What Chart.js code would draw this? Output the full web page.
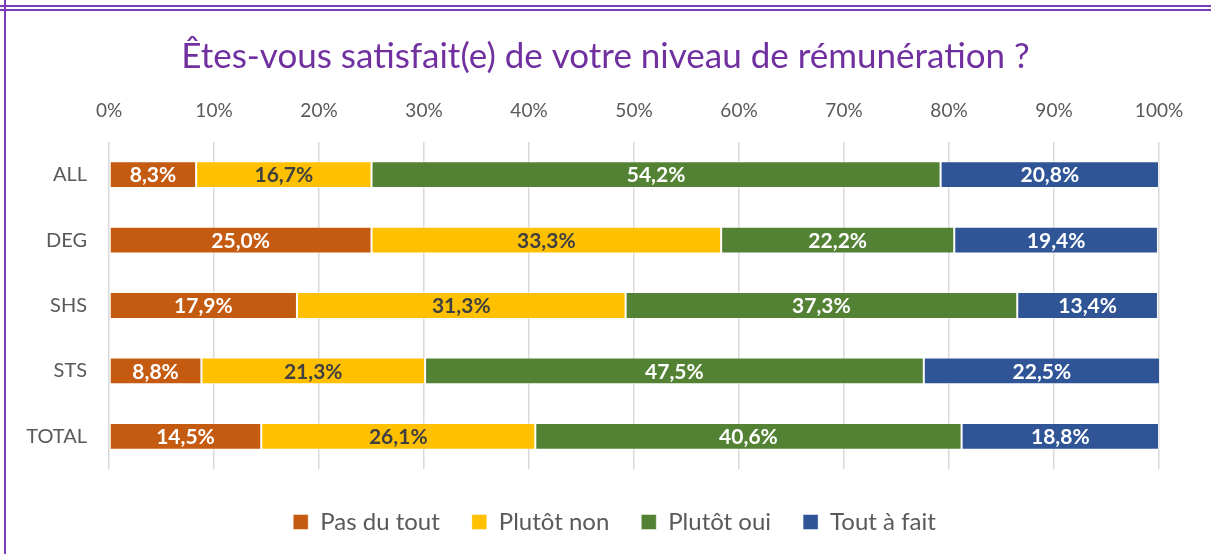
<!DOCTYPE html>
<html lang="fr">
<head>
<meta charset="utf-8">
<script src="https://cdn.jsdelivr.net/npm/chart.js@4.4.1/dist/chart.umd.min.js"></script>
<style>
    html, body { margin: 0; padding: 0; background: #fff; }
    #wrap { position: relative; width: 1211px; height: 554px; overflow: hidden; }
    .ligne { position: absolute; background: #7a3db8; }
    canvas { position: absolute; left: 0; top: 0; }
</style>
</head>
<body>
<div id="wrap">
    <div class="ligne" style="left:0;top:5px;width:1211px;height:2px;"></div>
    <div class="ligne" style="left:0;top:9px;width:1211px;height:2px;"></div>
    <div class="ligne" style="left:4px;top:0;width:2px;height:554px;"></div>
    <canvas id="graphique" width="1211" height="554"></canvas>
</div>
<script>
    const categories = ['ALL', 'DEG', 'SHS', 'STS', 'TOTAL'];
    const pasDuTout = [8.3, 25.0, 17.9, 8.8, 14.5];
    const plutotNon = [16.7, 33.3, 31.3, 21.3, 26.1];
    const plutotOui = [54.2, 22.2, 37.3, 47.5, 40.6];
    const toutAFait = [20.8, 19.4, 13.4, 22.5, 18.8];

    const police = 'Lato, "Open Sans", sans-serif';
    const gris = '#595959';

    // etiquettes de valeur au centre de chaque segment
    const etiquettes = {
        id: 'etiquettes',
        afterDatasetsDraw: function (chart) {
            const ctx = chart.ctx;
            ctx.save();
            ctx.font = 'bold 21px ' + police;
            ctx.textAlign = 'center';
            ctx.textBaseline = 'middle';
            chart.data.datasets.forEach(function (ds, i) {
                const meta = chart.getDatasetMeta(i);
                meta.data.forEach(function (bar, j) {
                    const v = ds.data[j];
                    const texte = v.toFixed(1).replace('.', ',') + '%';
                    ctx.fillStyle = ds.couleurTexte;
                    ctx.fillText(texte, (bar.x + bar.base) / 2, bar.y + 1);
                });
            });
            ctx.restore();
        }
    };

    // petit decalage de la legende vers la droite, comme dans l'original
    const decalageLegende = {
        id: 'decalageLegende',
        afterLayout: function (chart) {
            chart.legend.left += 9;
            chart.legend.right += 9;
        }
    };

    function serie(label, data, couleur, couleurTexte) {
        return {
            label: label,
            data: data,
            backgroundColor: couleur,
            borderColor: 'rgba(255, 255, 255, 0.45)',
            borderWidth: 1,
            borderSkipped: false,
            couleurTexte: couleurTexte,
            categoryPercentage: 0.41,
            barPercentage: 1
        };
    }

    new Chart(document.getElementById('graphique'), {
        type: 'bar',
        data: {
            labels: categories,
            datasets: [
                serie('Pas du tout', pasDuTout, '#c55a11', '#ffffff'),
                serie('Plutôt non', plutotNon, '#ffc000', '#404040'),
                serie('Plutôt oui', plutotOui, '#548235', '#ffffff'),
                serie('Tout à fait', toutAFait, '#2f5597', '#ffffff')
            ]
        },
        plugins: [etiquettes, decalageLegende],
        options: {
            indexAxis: 'y',
            responsive: false,
            animation: false,
            layout: { padding: { left: 0, right: 0, top: 0, bottom: 10 } },
            scales: {
                x: {
                    position: 'top',
                    stacked: true,
                    min: 0,
                    max: 100,
                    border: { display: false },
                    grid: { color: '#d9d9d9', lineWidth: 1.5, drawTicks: false },
                    ticks: {
                        stepSize: 10,
                        padding: 20,
                        color: gris,
                        font: { family: police, size: 19 },
                        callback: function (v) { return v + '%'; }
                    },
                    afterFit: function (s) { s.height = 60; }
                },
                y: {
                    stacked: true,
                    border: { display: false },
                    grid: { display: false, drawTicks: false },
                    ticks: {
                        padding: 22,
                        color: gris,
                        font: { family: police, size: 20 }
                    },
                    afterFit: function (s) { s.width = 109; }
                },
                droite: {
                    type: 'linear',
                    axis: 'y',
                    position: 'right',
                    display: true,
                    border: { display: false },
                    grid: { display: false },
                    ticks: { display: false },
                    afterFit: function (s) { s.width = 52; }
                },
                ecart: {
                    type: 'linear',
                    axis: 'x',
                    position: 'bottom',
                    display: true,
                    border: { display: false },
                    grid: { display: false },
                    ticks: { display: false },
                    afterFit: function (s) { s.height = 9; }
                }
            },
            plugins: {
                title: {
                    display: true,
                    text: 'Êtes-vous satisfait(e) de votre niveau de rémunération ?',
                    color: '#7030a0',
                    font: { family: police, size: 35, weight: 'normal' },
                    padding: { top: 36, bottom: 4 }
                },
                legend: {
                    position: 'bottom',
                    labels: {
                        boxWidth: 15,
                        boxHeight: 15,
                        padding: 32,
                        color: gris,
                        font: { family: police, size: 24 }
                    }
                },
                tooltip: { enabled: false }
            }
        }
    });
</script>
</body>
</html>
